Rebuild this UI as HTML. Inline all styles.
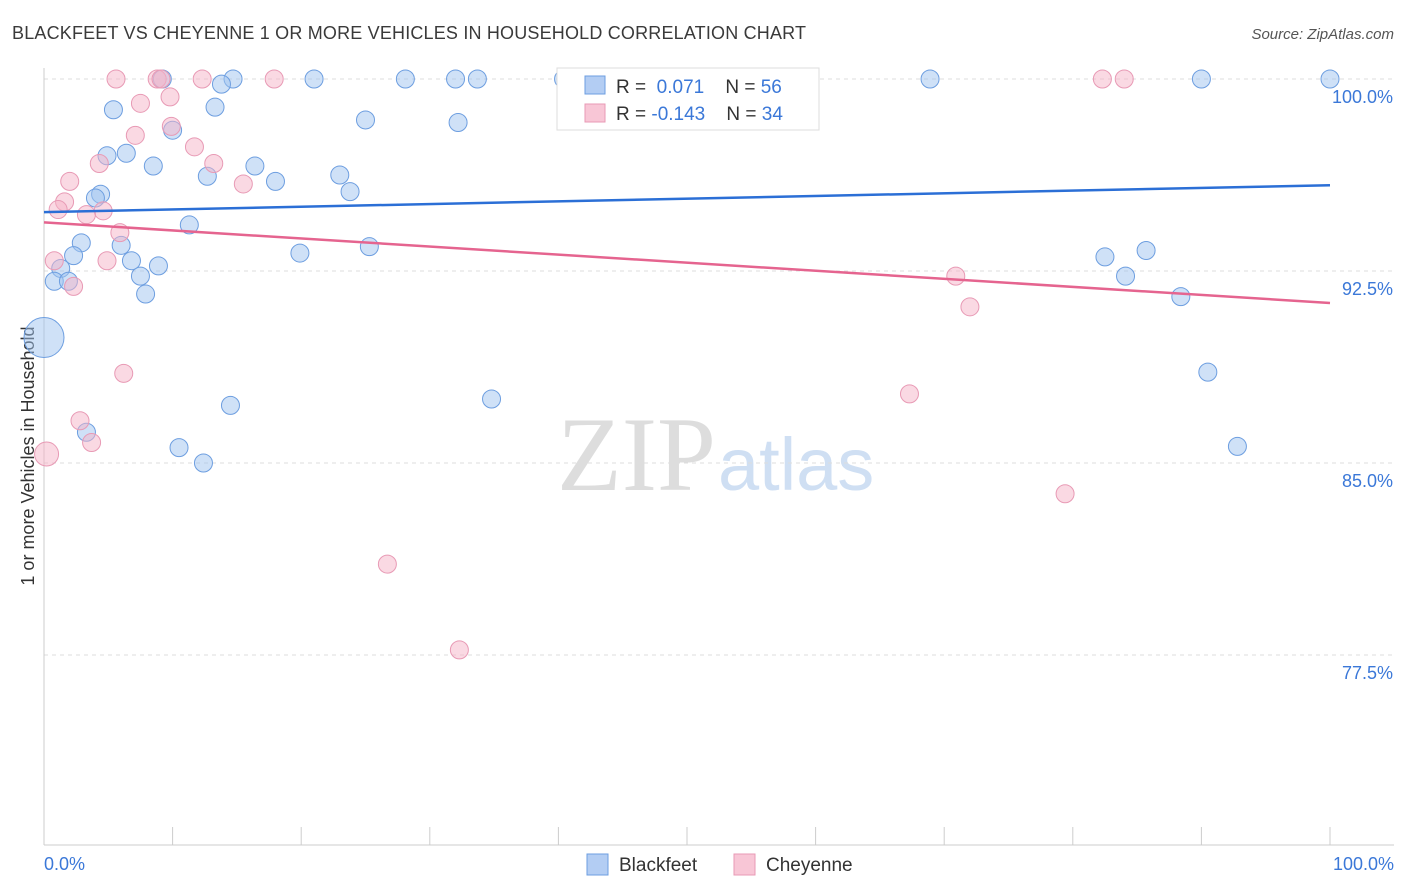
<!DOCTYPE html>
<html><head><meta charset="utf-8"><style>
body{margin:0;background:#fff;font-family:"Liberation Sans",sans-serif}
svg{display:block}
</style></head><body>
<svg id="chart" width="1406" height="892">
<text x="12" y="39" font-size="18" fill="#3a3a3a" textLength="794">BLACKFEET VS CHEYENNE 1 OR MORE VEHICLES IN HOUSEHOLD CORRELATION CHART</text>
<text x="1394" y="39" font-size="15" fill="#555" text-anchor="end" font-style="italic">Source: ZipAtlas.com</text>
<text x="716" y="490" font-size="106" fill="#ddd" text-anchor="end" font-family="Liberation Serif">ZIP</text>
<text x="718" y="490" font-size="74" fill="#cfdff3">atlas</text>
<text transform="translate(34,456) rotate(-90)" font-size="18" fill="#333" text-anchor="middle">1 or more Vehicles in Household</text>
<g id="grid"></g><g id="axes"></g><g id="pts"></g><g id="trends"></g>
<g>
<rect x="557" y="68" width="262" height="62" fill="#fff" stroke="#ddd"/>
<rect x="585" y="76" width="20" height="18" fill="#b3cdf3" stroke="#6d9ee0"/>
<text x="616" y="93" font-size="19" fill="#333">R = <tspan fill="#3b78d8">&#160;0.071</tspan>&#160;&#160;&#160;&#160;N = <tspan fill="#3b78d8">56</tspan></text>
<rect x="585" y="104" width="20" height="18" fill="#f8c6d6" stroke="#e89ab5"/>
<text x="616" y="120" font-size="19" fill="#333">R = <tspan fill="#3b78d8">-0.143</tspan>&#160;&#160;&#160;&#160;N = <tspan fill="#3b78d8">34</tspan></text>
</g>
<g>
<rect x="587" y="854" width="21" height="21" fill="#b3cdf3" stroke="#6d9ee0"/>
<text x="619" y="871" font-size="19" fill="#333">Blackfeet</text>
<rect x="734" y="854" width="21" height="21" fill="#f8c6d6" stroke="#e89ab5"/>
<text x="766" y="871" font-size="19" fill="#333">Cheyenne</text>
</g>
</svg>
<script>
const yTicks=[100,92.5,85,77.5];
const yTickLabels=["100.0%","92.5%","85.0%","77.5%"];
const xEndLabels=["0.0%","100.0%"];
const blueX=[5.4,14.7,21.0,28.1,32.0,33.7,40.4,9.2,68.9,90.0,100,47.3,13.8,13.3,25.0,32.2,10.0,6.4,4.9,8.5,16.4,12.7,18.0,23.0,23.8,4.4,4.0,11.3,2.9,6.0,2.3,19.9,25.3,6.8,8.9,1.3,7.5,0.8,1.9,7.9,82.5,85.7,84.1,88.4,90.5,34.8,14.5,3.3,10.5,12.4,92.8,0];
const blueY=[98.8,100,100,100,100,100,100,100,100,100,100,100,99.8,98.9,98.4,98.3,98.0,97.1,97.0,96.6,96.6,96.2,96.0,96.25,95.6,95.5,95.35,94.3,93.6,93.5,93.1,93.2,93.45,92.9,92.7,92.6,92.3,92.1,92.1,91.6,93.05,93.3,92.3,91.5,88.55,87.5,87.25,86.2,85.6,85.0,85.65,89.9];
const pinkX=[5.6,8.8,9.1,12.3,17.9,82.3,84.0,7.5,9.8,9.9,7.1,11.7,13.2,4.3,2.0,15.5,1.6,1.1,4.6,3.3,5.9,0.8,4.9,2.3,70.9,72.0,6.2,67.3,2.8,3.7,0.2,79.4,26.7,32.3];
const pinkY=[100,100,100,100,100,100,100,99.05,99.3,98.15,97.8,97.35,96.7,96.7,96.0,95.9,95.2,94.9,94.85,94.7,94.0,92.9,92.9,91.9,92.3,91.1,88.5,87.7,86.65,85.8,85.35,83.8,81.05,77.7];
const blueTrend=[94.8,95.85];
const pinkTrend=[94.4,91.25];
const X0=44,X1=1330,Y100=79,PX=25.6;
const sx=v=>X0+(X1-X0)*v/100;
const sy=v=>Y100+(100-v)*PX;
const NS="http://www.w3.org/2000/svg";
function mk(t,a,p){const e=document.createElementNS(NS,t);for(const k in a)e.setAttribute(k,a[k]);document.getElementById(p).appendChild(e);return e;}
yTicks.forEach((t,i)=>{
 const l=mk('line',{x1:44,x2:1394,y1:sy(t),y2:sy(t),stroke:'#ddd','stroke-dasharray':'4,4'},'grid');
 
 
 const tx=mk('text',{x:1393,y:sy(t)+24,'font-size':18,fill:'#3b78d8','text-anchor':'end'},'grid');
 tx.textContent=yTickLabels[i];
 
 
});
let a=mk('line',{x1:44,x2:44,y1:68,y2:845,stroke:'#ccc'},'axes');


a=mk('line',{x1:44,x2:1394,y1:845,y2:845,stroke:'#ccc'},'axes');


for(let i=0;i<=10;i++){const t=mk('line',{x1:sx(i*10),x2:sx(i*10),y1:827,y2:845,stroke:'#ccc'},'axes');
 
 }
[[0,'start',44],[100,'end',1394]].forEach((d,i)=>{const t=mk('text',{x:d[2],y:870,'font-size':18,fill:'#3b78d8','text-anchor':d[1]},'axes');t.textContent=xEndLabels[i];
 
 });
blueX.forEach((x,i)=>{const c=mk('circle',{cx:sx(x),cy:sy(blueY[i]),r:(x===0?20:9),fill:'rgba(160,195,240,0.5)',stroke:'#6d9ee0','stroke-width':1},'pts');
 
 });
pinkX.forEach((x,i)=>{const c=mk('circle',{cx:sx(x),cy:sy(pinkY[i]),r:(x<0.5?12:9),fill:'rgba(245,180,200,0.5)',stroke:'#e89ab5','stroke-width':1},'pts');
 
 });
let t=mk('line',{x1:sx(0),x2:sx(100),y1:sy(blueTrend[0]),y2:sy(blueTrend[1]),stroke:'#2b6fd6','stroke-width':2.5},'trends');


t=mk('line',{x1:sx(0),x2:sx(100),y1:sy(pinkTrend[0]),y2:sy(pinkTrend[1]),stroke:'#e5648f','stroke-width':2.5},'trends');


</script>
</body></html>
